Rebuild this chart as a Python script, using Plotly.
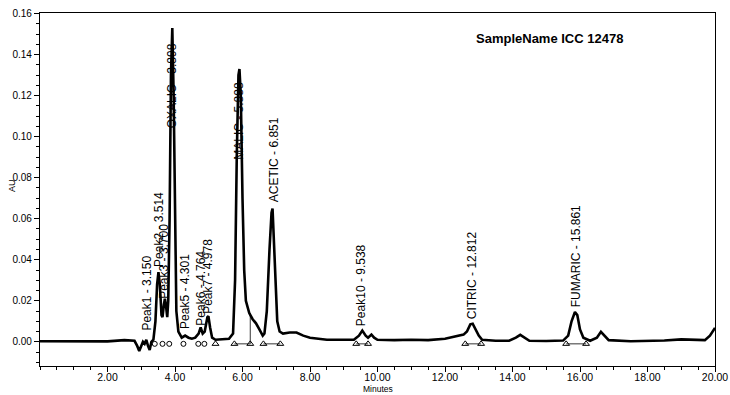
import plotly.graph_objects as go

# ---- chromatogram trace (time in minutes, AU) ----
time_min = [0.0, 0.5, 1.0, 1.5, 2.0, 2.5, 2.8, 2.88, 2.94, 3.0, 3.05, 3.1, 3.15, 3.2, 3.25,
            3.3, 3.36, 3.42, 3.47, 3.51, 3.55, 3.6, 3.63, 3.67, 3.70, 3.73, 3.77, 3.80, 3.84,
            3.88, 3.92, 3.96, 4.0, 4.04, 4.1, 4.2, 4.3, 4.4, 4.5, 4.6, 4.7, 4.76, 4.82, 4.88,
            4.96, 4.99, 5.04, 5.1, 5.2, 5.4, 5.6, 5.72, 5.78, 5.83, 5.88, 5.91, 5.95, 6.0,
            6.05, 6.1, 6.2, 6.3, 6.4, 6.5, 6.6, 6.65, 6.72, 6.8, 6.86, 6.89, 6.93, 6.98, 7.03,
            7.1, 7.2, 7.4, 7.6, 7.8, 8.0, 8.5, 9.0, 9.3, 9.45, 9.55, 9.65, 9.72, 9.82, 9.9,
            10.0, 10.5, 11.0, 11.5, 12.0, 12.3, 12.55, 12.65, 12.75, 12.82, 12.9, 13.0, 13.1,
            13.5, 13.9, 14.1, 14.23, 14.35, 14.5, 15.0, 15.5, 15.65, 15.75, 15.85, 15.92,
            16.0, 16.1, 16.3, 16.5, 16.62, 16.72, 16.85, 17.5, 18.0, 18.5, 19.0, 19.5, 19.7,
            19.85, 20.0]
absorbance = [0.0003, 0.0003, 0.0004, 0.0005, 0.0002, 0.0008, 0.0005, -0.002, -0.0045, -0.002,
              0.0, -0.001, 0.001, -0.002, -0.004,
              0.0, 0.001, 0.010, 0.028, 0.034, 0.028, 0.013, 0.012, 0.018, 0.021, 0.018, 0.012,
              0.020, 0.060,
              0.130, 0.153, 0.120, 0.050, 0.015, 0.005, 0.002, 0.003, 0.002, 0.0015, 0.002,
              0.004, 0.007, 0.004, 0.005,
              0.012, 0.0125, 0.007, 0.002, 0.001, 0.0012, 0.0015, 0.004, 0.030, 0.090, 0.130,
              0.133, 0.120, 0.070,
              0.035, 0.020, 0.014, 0.011, 0.009, 0.006, 0.003, 0.004, 0.015, 0.045, 0.063,
              0.065, 0.050, 0.025, 0.010,
              0.005, 0.004, 0.0045, 0.0045, 0.003, 0.002, 0.001, 0.0008, 0.001, 0.003, 0.0055,
              0.003, 0.002, 0.0035, 0.002,
              0.001, 0.0008, 0.001, 0.0008, 0.0015, 0.0025, 0.0035, 0.005, 0.0085, 0.0088,
              0.006, 0.003, 0.001,
              0.0005, 0.0005, 0.002, 0.0034, 0.002, 0.0005, 0.0004, 0.0006, 0.003, 0.010,
              0.0145, 0.013,
              0.006, 0.002, 0.0005, 0.002, 0.0049, 0.003, 0.0008, 0.0003, 0.0003, 0.0006,
              0.0012, 0.0008, 0.0008,
              0.003, 0.0068]

# ---- peak labels ----
label_text = ["Peak1 - 3.150", "Peak2 - 3.514", "Peak3 - 3.700", "OXALIC - 3.898",
              "Peak5 - 4.301", "Peak6 - 4.764", "Peak7 - 4.978", "MALIC - 5.888",
              "ACETIC - 6.851", "Peak10 - 9.538", "CITRIC - 12.812", "FUMARIC - 15.861"]
label_time = [3.18, 3.54, 3.69, 3.92, 4.31, 4.78, 4.99, 5.91, 6.915, 9.52, 12.81, 15.89]
label_base = [0.0044, 0.0355, 0.020, 0.103, 0.0053, 0.0068, 0.0126, 0.088, 0.067, 0.0068,
              0.0102, 0.016]

# ---- integration markers ----
circle_time = [3.40, 3.63, 3.83, 4.25, 4.69, 4.87]
triangle_time = [5.20, 5.76, 6.23, 6.62, 7.12, 9.37, 9.72, 12.60, 13.07, 15.59, 16.18]
marker_level = -0.001
baseline_segments = [(5.76, 6.23), (6.62, 7.12), (9.37, 9.72), (12.60, 13.07), (15.59, 16.18)]
drop_lines = [(6.23, 0.014)]

# ---- tick labels ----
x_tickvals = [2, 4, 6, 8, 10, 12, 14, 16, 18, 20]
x_ticktext = ["2.00", "4.00", "6.00", "8.00", "10.00", "12.00", "14.00", "16.00", "18.00", "20.00"]
y_tickvals = [0, 0.02, 0.04, 0.06, 0.08, 0.10, 0.12, 0.14, 0.16]
y_ticktext = ["0.00", "0.02", "0.04", "0.06", "0.08", "0.10", "0.12", "0.14", "0.16"]

FONT = "Liberation Sans, Arial"
fig = go.Figure()

seg_x, seg_y = [], []
for a, b in baseline_segments:
    seg_x += [a, b, None]
    seg_y += [marker_level, marker_level, None]
for t, v in drop_lines:
    seg_x += [t, t, None]
    seg_y += [marker_level, v, None]
fig.add_trace(go.Scatter(x=seg_x, y=seg_y, mode="lines",
                         line=dict(color="black", width=0.8), hoverinfo="skip"))

fig.add_trace(go.Scatter(x=time_min, y=absorbance, mode="lines",
                         line=dict(color="black", width=2.6)))

fig.add_trace(go.Scatter(x=circle_time, y=[marker_level] * len(circle_time), mode="markers",
                         marker=dict(symbol="circle-open", size=5, color="black",
                                     line=dict(width=1))))
fig.add_trace(go.Scatter(x=triangle_time, y=[marker_level] * len(triangle_time), mode="markers",
                         marker=dict(symbol="triangle-up-open", size=6, color="black",
                                     line=dict(width=1))))

for txt, t, b in zip(label_text, label_time, label_base):
    fig.add_annotation(x=t, y=b, text=txt, textangle=-90, showarrow=False,
                       xanchor="center", yanchor="bottom",
                       font=dict(family=FONT, size=12, color="black"))

fig.add_annotation(x=0.755, y=0.929, xref="paper", yref="paper",
                   xanchor="center", yanchor="middle",
                   text="<b>SampleName ICC 12478</b>", showarrow=False,
                   font=dict(family=FONT, size=13, color="black"))

# axis titles as positioned text
fig.add_annotation(x=10, y=-0.082, xref="x", yref="paper", text="Minutes", showarrow=False,
                   xanchor="center", yanchor="bottom", borderpad=0,
                   font=dict(family=FONT, size=8.5))
fig.add_annotation(x=-0.0415, y=0.513, xref="paper", yref="paper", text="AU", showarrow=False,
                   textangle=-90, xanchor="center", yanchor="middle",
                   font=dict(family=FONT, size=9))

fig.update_layout(
    width=730, height=395,
    margin=dict(l=40, r=15, t=13, b=29, autoexpand=False),
    paper_bgcolor="white", plot_bgcolor="white",
    showlegend=False,
    font=dict(family=FONT, size=10, color="black"),
)
fig.update_xaxes(range=[0, 20], tickvals=x_tickvals, ticktext=x_ticktext,
                 ticks="outside", ticklen=5, tickcolor="black", automargin=False,
                 ticklabelstandoff=-4,
                 minor=dict(dtick=0.5, ticks="outside", ticklen=3, tickcolor="black"),
                 showline=True, linecolor="black", linewidth=1.2, mirror=True,
                 showgrid=False, zeroline=False, tickfont=dict(size=10.5))
fig.update_yaxes(range=[-0.0118, 0.1603], tickvals=y_tickvals, ticktext=y_ticktext,
                 ticks="outside", ticklen=5, tickcolor="black", automargin=False,
                 minor=dict(dtick=0.005, ticks="outside", ticklen=3, tickcolor="black"),
                 showline=True, linecolor="black", linewidth=1.2, mirror=True,
                 showgrid=False, zeroline=False, tickfont=dict(size=10))

fig.write_html("out.html", config={"displayModeBar": False},
               post_script="document.body.style.margin='0';")
